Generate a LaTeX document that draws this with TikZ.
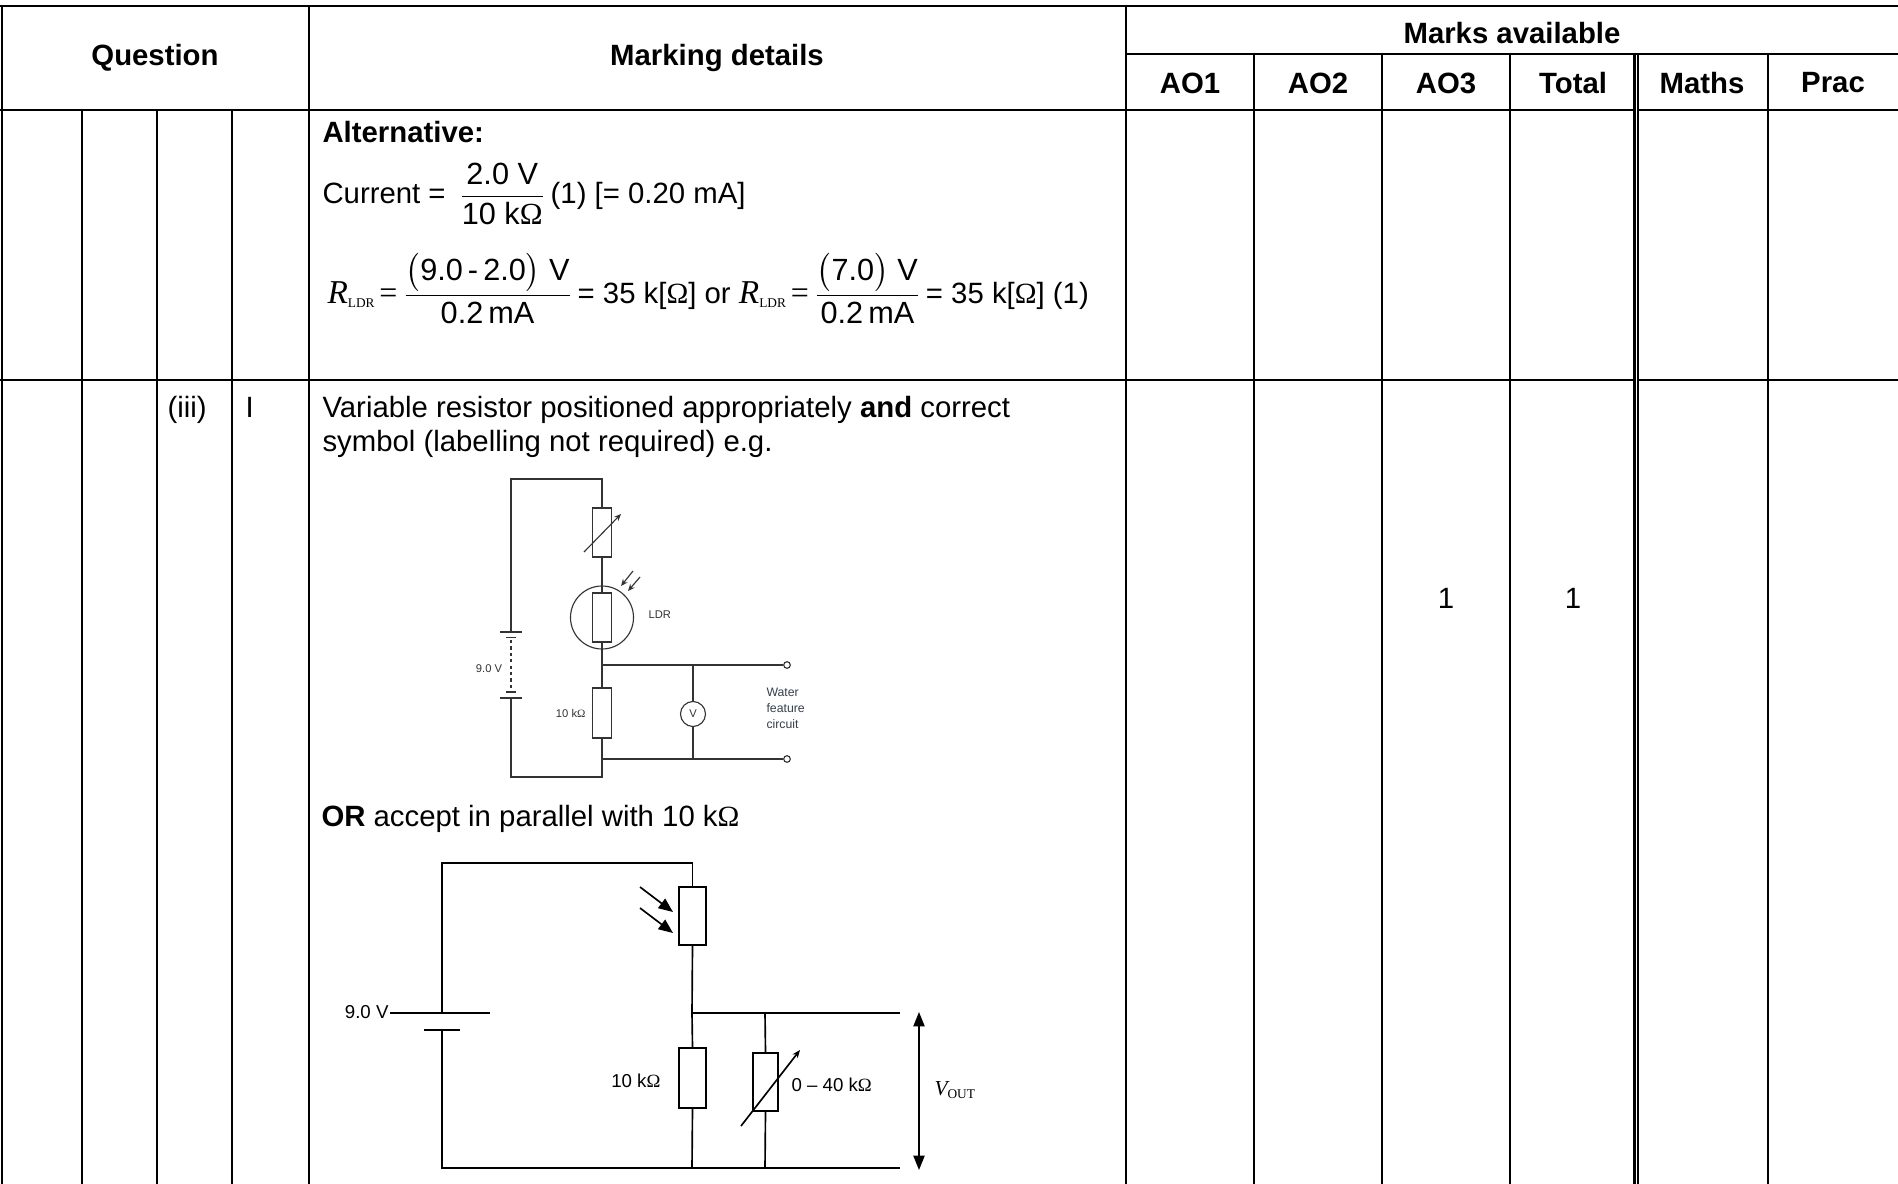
\documentclass[tikz,border=0pt]{standalone}
\usepackage{fontspec}
\usepackage{amsmath}
\setmainfont{Liberation Sans}
\newfontfamily\tms{Liberation Serif}
\usetikzlibrary{arrows.meta}
\definecolor{wire}{HTML}{333333}
\definecolor{wfc}{HTML}{34404E}
\newcommand{\fr}[1]{\mbox{\fontsize{11.5}{14}\selectfont #1}}
\newcommand{\RLDR}{{\tms\fontsize{12.5}{14}\selectfont\itshape R}\raisebox{-1.6pt}{\tms\fontsize{5}{6}\selectfont LDR}}
\newcommand{\Om}{{\tms Ω}}
\tikzset{
  gridline/.style={line width=1pt},
  hdr/.style={font=\fontsize{11}{13}\selectfont\bfseries, inner sep=0pt},
  body/.style={font=\fontsize{11}{13}\selectfont, inner sep=0pt, anchor=base west},
  swire/.style={draw=wire, line width=0.42pt},
  sbox/.style={draw=wire, line width=0.42pt, rectangle, inner sep=0pt, minimum width=19*0.375pt, minimum height=49*0.375pt},
  lwire/.style={draw=black, line width=0.62pt},
  lbox/.style={draw=black, line width=0.62pt, rectangle, inner sep=0pt},
  slabel/.style={font=\fontsize{4.2}{5}\selectfont, inner sep=0pt, text=wire},
  llabel/.style={font=\fontsize{7}{8}\selectfont, inner sep=0pt},
  sarrow/.style={draw=wire, line width=0.42pt, -{Stealth[length=2.6pt,width=2.2pt]}},
  larrow/.style={draw=black, line width=0.62pt, -{Triangle[length=5.4pt,width=4.4pt]}},
}
\begin{document}
\begin{tikzpicture}[x=0.375pt,y=-0.375pt]
\useasboundingbox (0,0) rectangle (1898,1184);
\fill[white] (0,0) rectangle (1898,1184);

% ---------- table grid ----------
\draw[gridline] (0,6) -- (1898,6);
\draw[gridline] (1126,54) -- (1898,54);
\draw[gridline] (0,110) -- (1898,110);
\draw[gridline] (0,380) -- (1898,380);
\draw[gridline] (2,6) -- (2,1184);
\foreach \x in {82,157,232} \draw[gridline] (\x,110) -- (\x,1184);
\draw[gridline] (309,6) -- (309,1184);
\draw[gridline] (1126,6) -- (1126,1184);
\foreach \x in {1254,1382,1510,1768} \draw[gridline] (\x,54) -- (\x,1184);
\draw[line width=2.1pt] (1636,54) -- (1636,1184);
\draw[white,line width=0.38pt] (1636,55.5) -- (1636,1184);

% ---------- header ----------
\node[hdr] (hq) at (155,58) {Question};
\node[hdr] (hm) at (717,58) {Marking details};
\node[hdr] (hma) at (1512,33) {Marks available};
\node[hdr] (h1) at (1190,83) {AO1};
\node[hdr] (h2) at (1318,83) {AO2};
\node[hdr] (h3) at (1446,83) {AO3};
\node[hdr] (h4) at (1573,83) {Total};
\node[hdr] (h5) at (1702,83) {Maths};
\node[hdr] (h6) at (1833,83) {Prac};

% ---------- row 1 ----------
\node[body] (alt) at (322,143) {\bfseries Alternative:};
\node[body] (cur) at (322,204) {Current =\ \,$\dfrac{\fr{2.0 V}}{\fr{10 k\Om}}$\,(1) [= 0.20 mA]};
\node[body] (rl) at (327,303) {\RLDR\,{\tms\fontsize{12}{14}\selectfont =}\,$\dfrac{\fr{$\bigl($9.0\,-\,2.0$\bigr)$ V}}{\fr{0.2\,mA}}$\,= 35 k[\Om] or \RLDR\,{\tms\fontsize{12}{14}\selectfont =}\,$\dfrac{\fr{$\bigl($7.0$\bigr)$ V}}{\fr{0.2\,mA}}$\,= 35 k[\Om] (1)};

% ---------- row 2 text ----------
\node[body] (q3) at (167,417) {(iii)};
\node[body] (qi) at (245,417) {I};
\node[body] (t1) at (322,417) {Variable resistor positioned appropriately \textbf{and} correct};
\node[body] (t2) at (322,451) {symbol (labelling not required) e.g.};
\node[body] (t3) at (321,826) {\textbf{OR} accept in parallel with 10 k\Om};
\node[font=\fontsize{11}{13}\selectfont, inner sep=0pt] (m1) at (1446,598) {1};
\node[font=\fontsize{11}{13}\selectfont, inner sep=0pt] (m2) at (1573,598) {1};

% ---------- small circuit ----------
\coordinate (sTL) at (511,479);
\coordinate (sBatA) at (511,632);
\coordinate (sBatB) at (511,698);
\coordinate (sBL) at (511,777);
\coordinate (sBR) at (602,777);
\coordinate (sJ1) at (602,665);
\coordinate (sJ2) at (602,759);
\coordinate (sJ3) at (693,665);
\coordinate (sJ4) at (693,759);
\node[sbox] (sv) at (602,532.5) {};
\node[draw=wire, line width=0.42pt, circle, inner sep=0pt, minimum size=63*0.375pt] (sldrc) at (602,617.5) {};
\node[sbox] (sldr) at (602,617.5) {};
\node[sbox, minimum height=50*0.375pt] (sr) at (602,713) {};
\node[draw=wire, line width=0.42pt, circle, inner sep=0pt, minimum size=25*0.375pt, font=\fontsize{4.2}{5}\selectfont, text=wire] (svm) at (693,714) {V};
\node[draw=wire, line width=0.42pt, circle, inner sep=0pt, minimum size=6.6*0.375pt] (sT1) at (787,665) {};
\node[draw=wire, line width=0.42pt, circle, inner sep=0pt, minimum size=6.6*0.375pt] (sT2) at (787,759) {};
\draw[swire] (sBatA) -- (sTL) -| (sv.north);
\draw[swire] (sv.south) -- (sldr.north);
\draw[swire] (sldr.south) -- (sJ1) -- (sr.north);
\draw[swire] (sr.south) -- (sBR) -- (sBL) -- (sBatB);
\draw[swire] (sJ1) -- (sT1.west);
\draw[swire] (sJ2) -- (sT2.west);
\draw[swire] (sJ3) -- (svm.north);
\draw[swire] (svm.south) -- (sJ4);
% battery plates
\draw[swire] (500,632) -- (522,632);
\draw[swire] (506,637.5) -- (516,637.5);
\draw[swire, dash pattern=on 1.2pt off 1.2pt] (511,640) -- (511,690);
\draw[swire] (506,692) -- (516,692);
\draw[swire] (500,698) -- (522,698);
% arrows
\coordinate (sva1) at (584,552); \coordinate (sva2) at (621,514);
\draw[sarrow] (sva1) -- (sva2);
\coordinate (sla1) at (633,571); \coordinate (sla2) at (621,586);
\coordinate (slb1) at (640,577); \coordinate (slb2) at (628,591);
\draw[sarrow] (sla1) -- (sla2);
\draw[sarrow] (slb1) -- (slb2);
% labels
\node[slabel, anchor=west] (sLDR) at (648,615) {LDR};
\node[slabel, anchor=center] (s9V) at (489,669) {9.0 V};
\node[slabel, anchor=east] (s10k) at (586,713) {10 k\Om};
\node[font=\fontsize{4.6}{5.9}\selectfont, inner sep=0pt, text=wfc, align=left, anchor=north west] (swfc) at (766,688) {Water\\feature\\circuit};

% ---------- large circuit ----------
\coordinate (lTL) at (442,863);
\coordinate (lBatL) at (442,1013);
\coordinate (lBatS) at (442,1030);
\coordinate (lBL) at (442,1168);
\coordinate (lJ1) at (692,1013);
\coordinate (lJ2) at (765,1013);
\coordinate (lOT) at (900,1013);
\coordinate (lB1) at (692,1168);
\coordinate (lB2) at (765,1168);
\coordinate (lOB) at (900,1168);
\node[lbox, minimum width=27*0.375pt, minimum height=58*0.375pt] (lldr) at (692.5,916) {};
\node[lbox, minimum width=27*0.375pt, minimum height=60*0.375pt] (lr) at (692.5,1078) {};
\node[lbox, minimum width=25*0.375pt, minimum height=58*0.375pt] (lvr) at (765.5,1082) {};
\draw[lwire] (lBatL) -- (lTL) -| (lldr.north);
\draw[lwire] (lldr.south) -- (lJ1) -- (lr.north);
\draw[lwire] (lr.south) -- (lB1);
\draw[lwire] (lBatS) -- (lBL) -- (lOB);
\draw[lwire] (lJ1) -- (lOT);
\draw[lwire] (lJ2) -- (lvr.north);
\draw[lwire] (lvr.south) -- (lB2);
\draw[lwire] (390,1013) -- (490,1013);
\draw[lwire] (424,1030) -- (460,1030);
\coordinate (la1) at (640,887); \coordinate (la2) at (673,912);
\coordinate (lb1) at (640,908); \coordinate (lb2) at (673,933);
\draw[larrow] (la1) -- (la2);
\draw[larrow] (lb1) -- (lb2);
\coordinate (lv1) at (741,1126); \coordinate (lv2) at (800,1050);
\draw[lwire, -{Stealth[length=3pt,width=2.4pt]}] (lv1) -- (lv2);
\coordinate (lVa) at (919,1012); \coordinate (lVb) at (919,1170);
\draw[lwire, {Triangle[length=5.4pt,width=4.2pt]}-{Triangle[length=5.4pt,width=4.2pt]}] (lVa) -- (lVb);
\node[llabel, anchor=east] (l9V) at (389,1012) {9.0 V};
\node[llabel, anchor=east] (l10k) at (661,1081) {10 k\Om};
\node[llabel, anchor=west] (l040) at (791,1085) {0 – 40 k\Om};
\node[inner sep=0pt, anchor=west] (lVout) at (934,1090) {{\tms\fontsize{8}{9}\selectfont\itshape V}\raisebox{-1pt}{\tms\fontsize{5}{6}\selectfont OUT}};
\end{tikzpicture}
\end{document}
